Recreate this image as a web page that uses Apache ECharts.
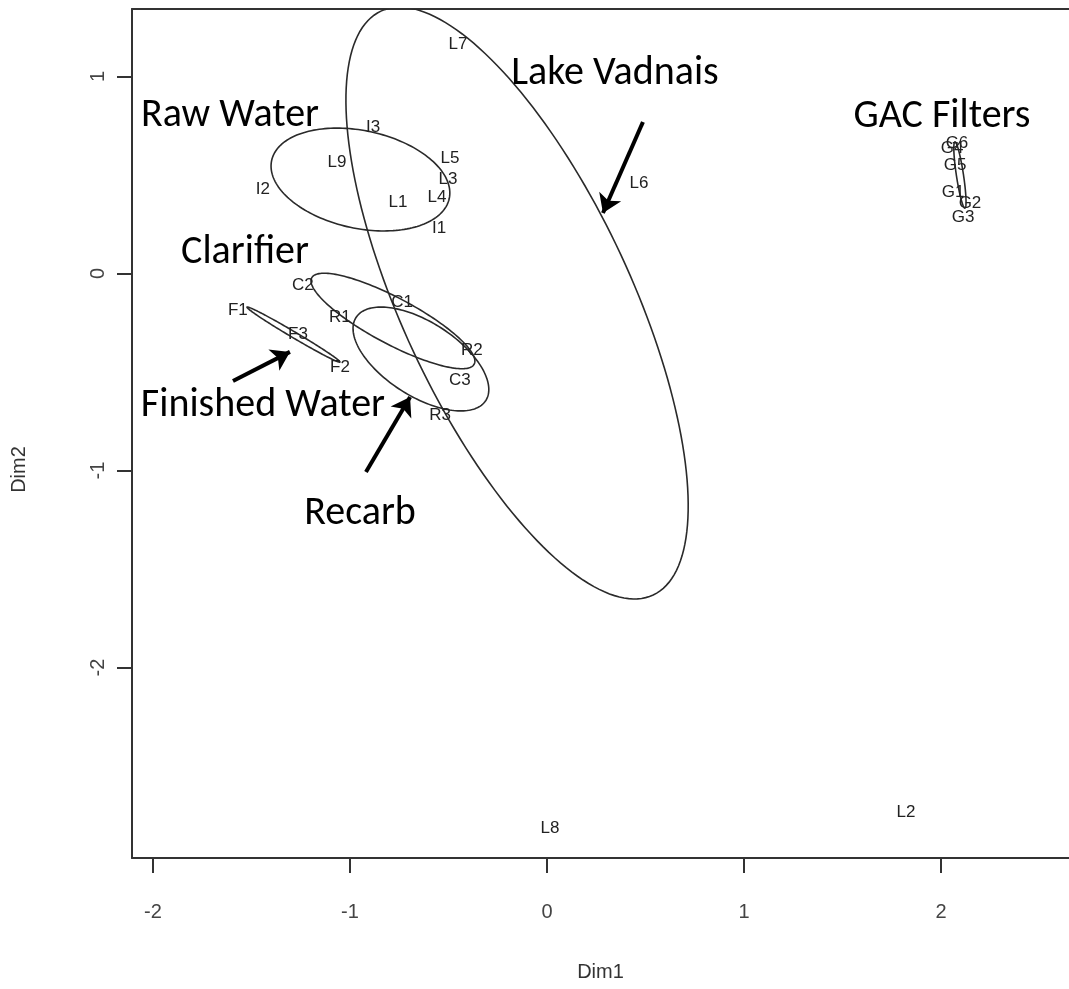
<!DOCTYPE html>
<html><head><meta charset="utf-8">
<script src="https://cdn.jsdelivr.net/npm/echarts@6/dist/echarts.min.js"></script>
<style>html,body{margin:0;padding:0;background:#fff}#c{width:1069px;height:989px}</style>
</head><body><div id="c"></div>
<script>
// sample point labels and coordinates (Dim1, Dim2)
const pointLabels = ['L7','I3','L9','L5','L3','L4','L1','I2','I1','L6','C2','F1','R1','C1','F3','F2','R2','C3','R3','L8','L2','G6','G4','G5','G1','G2','G3'];
const pointX = [-0.452,-0.883,-1.066,-0.492,-0.503,-0.558,-0.756,-1.442,-0.548,0.467,-1.239,-1.569,-1.051,-0.736,-1.264,-1.051,-0.381,-0.442,-0.543,0.015,1.822,2.081,2.056,2.071,2.061,2.147,2.112];
const pointY = [1.165,0.744,0.566,0.586,0.480,0.388,0.363,0.429,0.231,0.459,-0.058,-0.185,-0.221,-0.145,-0.307,-0.475,-0.388,-0.541,-0.718,-2.815,-2.734,0.662,0.637,0.551,0.414,0.358,0.287];

// group ellipses: centre, semi-axes, rotation (deg)
const ellipseGroups = ['Lake Vadnais','Raw Water','Clarifier','Recarb','Finished Water','GAC Filters'];
const ellipseCX = [-0.152,-0.947,-0.782,-0.640,-1.287,2.096];
const ellipseCY = [-0.150,0.477,-0.241,-0.434,-0.310,0.500];
const ellipseA = [1.635,0.461,0.467,0.391,0.274,0.170];
const ellipseB = [0.581,0.248,0.117,0.188,0.015,0.018];
const ellipseAngle = [-65.0,-12.1,-28.0,-32.6,-30.6,-81.4];

// annotations
const annoText = ['Lake Vadnais','Raw Water','GAC Filters','Clarifier','Finished Water','Recarb'];
const annoX = [0.345,-1.609,2.005,-1.533,-1.442,-0.949];
const annoY = [1.013,0.799,0.794,0.104,-0.673,-1.221];
const arrowFromX = [0.487,-1.594,-0.919];
const arrowFromY = [0.769,-0.546,-1.008];
const arrowToX = [0.284,-1.305,-0.695];
const arrowToY = [0.307,-0.398,-0.627];

const xTicks = [-2,-1,0,1,2];
const yTicks = [-2,-1,0,1];

const axisFont = 'Liberation Sans';
const chart = echarts.init(document.getElementById('c'), null, {renderer:'canvas'});

const ellipseData = ellipseCX.map((v,i)=>[v, ellipseCY[i], ellipseA[i], ellipseB[i], ellipseAngle[i]]);
const pointData = pointX.map((v,i)=>[v, pointY[i], pointLabels[i]]);
const annoData = annoX.map((v,i)=>[v, annoY[i], annoText[i]]);

const xMin = -2.1066, xMax = 2.6497;

chart.setOption({
  animation:false,
  backgroundColor:'#fff',
  grid:{left:132, top:9, right:0, bottom:131, show:false},
  xAxis:[{type:'value', min:xMin, max:xMax, name:'Dim1', nameLocation:'middle', nameGap:104,
    nameTextStyle:{fontFamily:axisFont, fontSize:20, color:'#333'},
    axisLine:{show:true, onZero:false, lineStyle:{color:'#333', width:2}},
    axisTick:{show:true, length:15, inside:false, customValues:xTicks, lineStyle:{color:'#333', width:2}},
    axisLabel:{show:true, customValues:xTicks, margin:44, fontFamily:axisFont, fontSize:20, color:'#444'},
    splitLine:{show:false}},
   {type:'value', position:'top', min:xMin, max:xMax,
    axisLine:{show:true, onZero:false, lineStyle:{color:'#333', width:2}},
    axisTick:{show:false}, axisLabel:{show:false}, splitLine:{show:false}}],
  yAxis:{type:'value', min:-2.967, max:1.3426, name:'Dim2', nameLocation:'middle', nameGap:103,
    nameTextStyle:{fontFamily:axisFont, fontSize:20, color:'#333', padding:[0,72,0,0]},
    axisLine:{show:true, onZero:false, lineStyle:{color:'#333', width:2}},
    axisTick:{show:true, length:15, inside:false, customValues:yTicks, lineStyle:{color:'#333', width:2}},
    axisLabel:{show:true, customValues:yTicks, rotate:90, margin:24, fontFamily:axisFont, fontSize:20, color:'#444'},
    splitLine:{show:false}},
  series:[
    {type:'custom', name:'ellipses', clip:true, data:ellipseData, encode:{x:0,y:1},
     renderItem:function(params, api){
       const cx=api.value(0), cy=api.value(1), a=api.value(2), b=api.value(3), ang=api.value(4)*Math.PI/180;
       const pts=[];
       for(let k=0;k<=180;k++){
         const t=k/180*2*Math.PI, ex=a*Math.cos(t), ey=b*Math.sin(t);
         pts.push(api.coord([cx+ex*Math.cos(ang)-ey*Math.sin(ang), cy+ex*Math.sin(ang)+ey*Math.cos(ang)]));
       }
       return {type:'polygon', shape:{points:pts}, style:{fill:'none', stroke:'#2a2a2a', lineWidth:1.6}};
     }},
    {type:'custom', name:'points', data:pointData, encode:{x:0,y:1},
     renderItem:function(params, api){
       const p=api.coord([api.value(0), api.value(1)]);
       return {type:'text', x:p[0], y:p[1], style:{text:pointLabels[params.dataIndex], align:'center', verticalAlign:'middle', fontFamily:'Liberation Sans', fontSize:17, fill:'#222'}};
     }},
    {type:'custom', name:'annotations', data:annoData, encode:{x:0,y:1},
     renderItem:function(params, api){
       const p=api.coord([api.value(0), api.value(1)]);
       return {type:'text', x:p[0], y:p[1], style:{text:annoText[params.dataIndex], align:'center', verticalAlign:'middle', fontFamily:'Carlito, Lato, sans-serif', fontSize:40, fill:'#000'}};
     }},
    {type:'lines', coordinateSystem:'cartesian2d', symbol:['none','arrow'], symbolSize:18,
     lineStyle:{color:'#000', width:4, opacity:1},
     data:arrowFromX.map((v,i)=>({coords:[[v, arrowFromY[i]],[arrowToX[i], arrowToY[i]]]}))}
  ]
});
</script></body></html>
